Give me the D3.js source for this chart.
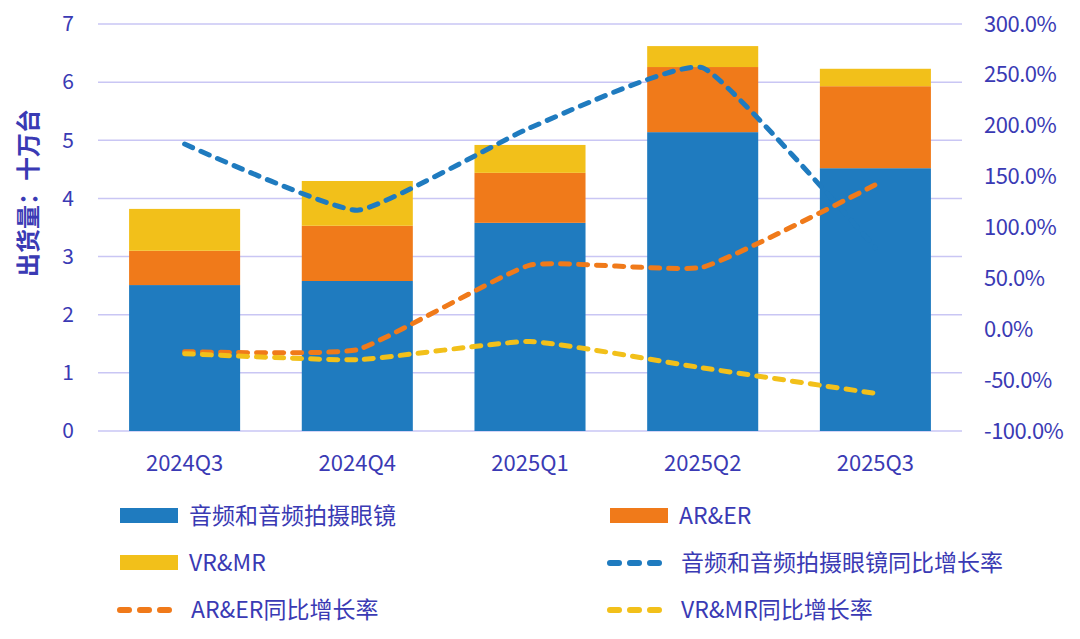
<!DOCTYPE html>
<html>
<head>
<meta charset="utf-8">
<script src="https://cdn.jsdelivr.net/npm/d3@7"></script>
<style>
  body { margin: 0; background: #fff; }
  text { font-family: "Noto Sans CJK SC", "Open Sans", sans-serif; fill: #3a3ab4; }
</style>
</head>
<body>
<svg id="chart"></svg>
<script>
const quarters = ["2024Q3", "2024Q4", "2025Q1", "2025Q2", "2025Q3"];
const audioGlasses = [2.51, 2.58, 3.58, 5.14, 4.52];
const arEr = [0.59, 0.95, 0.86, 1.12, 1.41];
const vrMr = [0.72, 0.77, 0.48, 0.36, 0.30];
const audioGrowth = [182, 117, 198, 257, 80];
const arGrowth = [-22, -20, 63, 61, 142];
const vrGrowth = [-24, -30, -12, -38, -63];
const leftTicks = [0, 1, 2, 3, 4, 5, 6, 7];
const rightTicks = [-100, -50, 0, 50, 100, 150, 200, 250, 300];

const colors = { blue: "#1f7bbf", orange: "#f07a1a", yellow: "#f2c01a" };

const width = 1080, height = 639;
const margin = { top: 24, right: 118, bottom: 208, left: 98 };
const innerW = width - margin.left - margin.right;
const innerH = height - margin.top - margin.bottom;

const svg = d3.select("#chart").attr("width", width).attr("height", height);
const chart = svg.append("g").attr("transform", `translate(${margin.left},${margin.top})`);

const x = d3.scaleBand().domain(quarters).range([0, innerW]).paddingInner(0.357).paddingOuter(0.18);
const y = d3.scaleLinear().domain([0, 7]).range([innerH, 0]);
const y2 = d3.scaleLinear().domain([-100, 300]).range([innerH, 0]);

// gridlines
chart.selectAll(".grid").data(leftTicks).enter().append("line")
  .attr("x1", 0).attr("x2", innerW)
  .attr("y1", d => y(d)).attr("y2", d => y(d))
  .attr("stroke", "#c9c6f4").attr("stroke-width", 1.5);

// left axis
const leftAxis = chart.append("g")
  .call(d3.axisLeft(y).tickValues(leftTicks).tickSize(0).tickPadding(24).tickFormat(d3.format("d")));
leftAxis.select(".domain").remove();
leftAxis.selectAll("text").attr("font-size", 21).style("fill", "#3a3ab4");

// right axis
const rightAxis = chart.append("g").attr("transform", `translate(${innerW},0)`)
  .call(d3.axisRight(y2).tickValues(rightTicks).tickSize(0).tickPadding(22).tickFormat(d => d.toFixed(1) + "%"));
rightAxis.select(".domain").remove();
rightAxis.selectAll("text").attr("font-size", 22).attr("letter-spacing", "-0.5").style("fill", "#3a3ab4");

// x axis
const xAxis = chart.append("g").attr("transform", `translate(0,${innerH})`)
  .call(d3.axisBottom(x).tickSize(0).tickPadding(24));
xAxis.select(".domain").remove();
xAxis.selectAll("text").attr("font-size", 22).style("fill", "#3a3ab4");

// y title
svg.append("text")
  .attr("transform", "translate(37,193) rotate(-90)")
  .attr("text-anchor", "middle")
  .attr("font-size", 24).attr("font-weight", "bold")
  .text("出货量：十万台");

// stacked bars
const rows = quarters.map((q, i) => ({ q, audio: audioGlasses[i], ar: arEr[i], vr: vrMr[i] }));
const stack = d3.stack().keys(["audio", "ar", "vr"])(rows);
const barColors = [colors.blue, colors.orange, colors.yellow];

chart.selectAll(".layer").data(stack).enter().append("g")
  .attr("fill", (d, i) => barColors[i])
  .selectAll("rect").data(d => d).enter().append("rect")
  .attr("x", d => x(d.data.q))
  .attr("width", x.bandwidth())
  .attr("y", d => y(d[1]))
  .attr("height", d => y(d[0]) - y(d[1]));

// growth lines
const line = d3.line()
  .x((d, i) => x(quarters[i]) + x.bandwidth() / 2)
  .y(d => y2(d))
  .curve(d3.curveCardinal.tension(0.6));

const lineSeries = [
  { values: audioGrowth, color: colors.blue },
  { values: arGrowth, color: colors.orange },
  { values: vrGrowth, color: colors.yellow }
];

chart.selectAll(".growth").data(lineSeries).enter().append("path")
  .attr("d", d => line(d.values))
  .attr("fill", "none")
  .attr("stroke", d => d.color)
  .attr("stroke-width", 5)
  .attr("stroke-linecap", "round")
  .attr("stroke-dasharray", "9,9");

// legend
const legendItems = [
  { label: "音频和音频拍摄眼镜", color: colors.blue, type: "rect" },
  { label: "AR&ER", color: colors.orange, type: "rect" },
  { label: "VR&MR", color: colors.yellow, type: "rect" },
  { label: "音频和音频拍摄眼镜同比增长率", color: colors.blue, type: "line" },
  { label: "AR&ER同比增长率", color: colors.orange, type: "line" },
  { label: "VR&MR同比增长率", color: colors.yellow, type: "line" }
];

const legend = svg.append("g");
const item = legend.selectAll(".item").data(legendItems).enter().append("g")
  .attr("transform", (d, i) => `translate(${i % 2 === 0 ? 120 : 610},${516 + Math.floor(i / 2) * 47})`);

item.filter(d => d.type === "rect").append("rect")
  .attr("x", 0).attr("y", -8).attr("width", 58).attr("height", 15)
  .attr("fill", d => d.color);

item.filter(d => d.type === "line").append("line")
  .attr("x1", 0).attr("x2", 58).attr("y1", 0).attr("y2", 0)
  .attr("stroke", d => d.color).attr("stroke-width", 6)
  .attr("stroke-linecap", "round").attr("stroke-dasharray", "9,11");

item.append("text")
  .attr("x", d => d.type === "rect" ? 69 : 71)
  .attr("y", 0).attr("dy", "0.35em")
  .attr("font-size", 23)
  .text(d => d.label);
</script>
</body>
</html>
